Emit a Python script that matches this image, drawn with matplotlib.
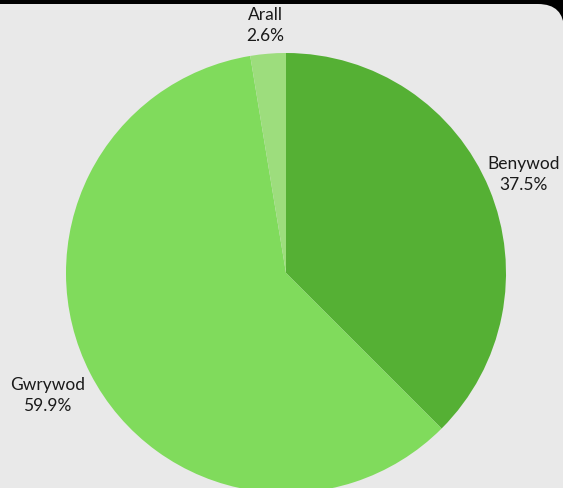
import numpy as np
import matplotlib.pyplot as plt
from matplotlib.patches import FancyBboxPatch
from matplotlib.transforms import IdentityTransform

labels = ["Benywod", "Gwrywod", "Arall"]
values = [37.5, 59.9, 2.6]
colors = ["#55b034", "#80db5c", "#9ddd7d"]
label_dist = [1.17, 1.22, 1.13]

W, H = 563, 488
R = 220
CX, CY = 286, 488 - 273

plt.rcParams['font.family'] = ['Lato', 'DejaVu Sans']

fig = plt.figure(figsize=(W / 100, H / 100), dpi=100, facecolor='black')

# light panel with rounded top-right corner
panel = FancyBboxPatch((-60, -60), W + 60 + 1, H - 4 + 60,
                       boxstyle="round,pad=0,rounding_size=26",
                       transform=IdentityTransform(), facecolor='#e9e9e9',
                       edgecolor='none', zorder=-5)
fig.patches.append(panel)

ax = fig.add_axes([0, 0, 1, 1])
ax.set_zorder(1)
ax.set_xlim(-CX, W - CX)
ax.set_ylim(-CY, H - CY)
ax.set_aspect('equal')
ax.axis('off')

wedges, _ = ax.pie(values, colors=colors, radius=R, startangle=90,
                   counterclock=False, center=(0, 0), frame=False,
                   wedgeprops=dict(linewidth=0))
ax.set_xlim(-CX, W - CX)
ax.set_ylim(-CY, H - CY)

for w, lab, v, d in zip(wedges, labels, values, label_dist):
    ang = np.deg2rad((w.theta1 + w.theta2) / 2)
    x = d * R * np.cos(ang)
    y = d * R * np.sin(ang)
    ax.text(x, y, f"{lab}\n{v:.1f}%", ha='center', va='center',
            fontsize=12.5, color='#1a1a1a', linespacing=1.4)

fig.savefig('out.png', dpi=100, facecolor=fig.get_facecolor())
